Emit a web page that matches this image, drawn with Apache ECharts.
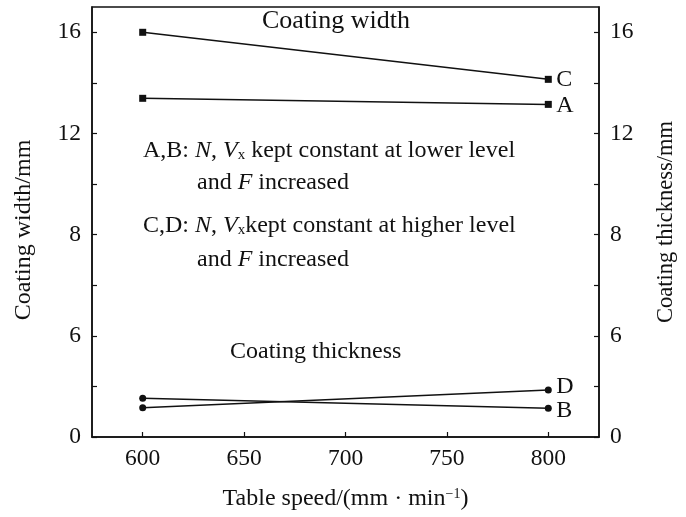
<!DOCTYPE html>
<html>
<head>
<meta charset="utf-8">
<script src="https://cdn.jsdelivr.net/npm/echarts@6/dist/echarts.min.js"></script>
<style>
  html, body { margin: 0; padding: 0; background: #fff; }
  #chart { width: 686px; height: 517px; }
</style>
</head>
<body>
<div id="chart"></div>
<script>
// table speed, mm/min
const speeds = [600, 800];
// coating width (left axis), mm
const widthA = [13.39, 13.15];
const widthC = [16.0, 14.14];
// coating thickness (right axis), mm
const thickB = [1.53, 1.14];
const thickD = [1.16, 1.86];

const xTicks = [600, 650, 700, 750, 800];
const yMinorTicks = [0, 2, 4, 6, 8, 10, 12, 14, 16];
const yTickValues = [0, 4, 8, 12, 16];
const yTickLabels = ['0', '6', '8', '12', '16']; // as printed in the figure

const FONT = '"Liberation Serif", "Times New Roman", serif';
const INK = '#111';

const pairs = (ys) => speeds.map((x, i) => [x, ys[i]]);
const yLabel = (v) => {
    const i = yTickValues.indexOf(v);
    return i >= 0 ? yTickLabels[i] : '';
};

const chart = echarts.init(document.getElementById('chart'));

const yAxisBase = {
    type: 'value',
    min: 0,
    max: 17,
    nameLocation: 'middle',
    axisLine: { show: true, lineStyle: { color: INK, width: 1.5 } },
    axisTick: { show: true, inside: true, length: 5, customValues: yMinorTicks, lineStyle: { color: INK, width: 1.2 } },
    axisLabel: { customValues: yTickValues, formatter: yLabel, fontFamily: FONT, fontSize: 23.5, color: INK, margin: 11 },
    splitLine: { show: false }
};

function lineSeries(name, ys, yIndex, symbol, dy) {
    return {
        name: name,
        type: 'line',
        yAxisIndex: yIndex,
        data: pairs(ys),
        symbol: symbol,
        symbolSize: 7,
        showAllSymbol: true,
        color: INK,
        lineStyle: { color: INK, width: 1.5 },
        itemStyle: { color: INK },
        labelLayout: { hideOverlap: false },
        endLabel: { show: true, formatter: '{a}', distance: 8, offset: [0, dy], fontFamily: FONT, fontSize: 24, color: INK },
        animation: false
    };
}

const rich = {
    i: { fontFamily: FONT, fontSize: 24, fontStyle: 'italic', color: INK },
    s: { fontFamily: FONT, fontSize: 15, color: INK, verticalAlign: 'bottom' }
};
function note(x, y, text, size) {
    return {
        type: 'text', left: x, top: y,
        style: { text: text, rich: rich, fontFamily: FONT, fontSize: size || 24, fill: INK }
    };
}

chart.setOption({
    animation: false,
    grid: {
        left: 92, right: 87, top: 7, bottom: 80,
        show: true, borderColor: INK, borderWidth: 1.5, backgroundColor: 'transparent'
    },
    xAxis: {
        type: 'value',
        min: 575,
        max: 825,
        name: '{t|Table speed/(mm · min}{p|−1}{t|)}',
        nameLocation: 'middle',
        nameGap: 50,
        nameTextStyle: {
            rich: {
                t: { fontFamily: FONT, fontSize: 24, color: INK },
                p: { fontFamily: FONT, fontSize: 14, color: INK, verticalAlign: 'top' }
            }
        },
        axisLine: { show: true, lineStyle: { color: INK, width: 1.5 } },
        axisTick: { show: true, inside: true, length: 5, customValues: xTicks, lineStyle: { color: INK, width: 1.2 } },
        axisLabel: { customValues: xTicks, fontFamily: FONT, fontSize: 23.5, color: INK, margin: 10 },
        splitLine: { show: false }
    },
    yAxis: [
        Object.assign({}, yAxisBase, {
            position: 'left', name: 'Coating width/mm', nameGap: 56,
            nameTextStyle: { fontFamily: FONT, fontSize: 24, color: INK, padding: [0, 16, 0, 0] }
        }),
        Object.assign({}, yAxisBase, {
            position: 'right', name: 'Coating thickness/mm', nameGap: 56,
            nameTextStyle: { fontFamily: FONT, fontSize: 22.5, color: INK }
        })
    ],
    series: [
        lineSeries('C', widthC, 0, 'rect', 0),
        lineSeries('A', widthA, 0, 'rect', 1),
        lineSeries('D', thickD, 1, 'circle', -3),
        lineSeries('B', thickB, 1, 'circle', 3)
    ],
    graphic: [
        note(262, 8, 'Coating width', 26),
        note(230, 340, 'Coating thickness', 24),
        note(143, 139, 'A,B: {i|N}, {i|V}{s|x} kept constant at lower level'),
        note(197, 171, 'and {i|F} increased'),
        note(143, 214, 'C,D: {i|N}, {i|V}{s|x}kept constant at higher level'),
        note(197, 248, 'and {i|F} increased')
    ]
});
</script>
</body>
</html>
